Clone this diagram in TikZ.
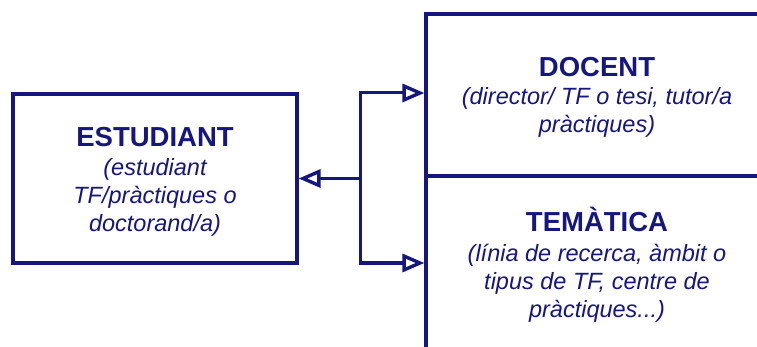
\documentclass[tikz,border=0pt]{standalone}
\usepackage{fontspec}
\setmainfont{Liberation Sans}
\usetikzlibrary{arrows.meta}
\definecolor{navy}{RGB}{22,22,128}
\tikzset{
  box/.style={draw=navy, line width=3.2pt, fill=white, inner sep=0pt},
  ttl/.style={font=\fontsize{27.5}{30}\selectfont\bfseries, text=navy},
  sub/.style={font=\fontsize{23.5}{28}\selectfont\itshape, text=navy, align=center},
  conn/.style={draw=navy, line width=3pt},
  tip/.style={-{Triangle[open, length=22pt, width=18pt, line width=3.4pt]}},
}
\begin{document}
\begin{tikzpicture}[x=1pt, y=-1pt]
\useasboundingbox (0,0) rectangle (757,347);
\clip (0,0) rectangle (757,347);
% boxes
\node[box, minimum width=284pt, minimum height=169pt] (est) at (155,178.5) {};
\node[box, minimum width=342pt, minimum height=162pt] (doc) at (597,95) {};
\node[box, minimum width=342pt, minimum height=183pt] (tem) at (597,267.5) {};
% texts (multi-line nodes: base = last line)
\node[ttl, anchor=base] (estT) at (155,147) {ESTUDIANT};
\node[sub, anchor=base] (estS) at (155,232) {(estudiant\\TF/pràctiques o\\doctorand/a)};
\node[ttl, anchor=base] (docT) at (597,77) {DOCENT};
\node[sub, anchor=base] (docS) at (597,133) {(director/ TF o tesi, tutor/a\\pràctiques)};
\node[ttl, anchor=base] (temT) at (597,232) {TEMÀTICA};
\node[sub, anchor=base] (temS) at (597,317) {(línia de recerca, àmbit o\\tipus de TF, centre de\\pràctiques...)};
% connectors
\coordinate (j) at (360,178.5);
\coordinate (jt) at (360,93);
\coordinate (jb) at (360,263);
\draw[conn, tip] (j) -- (est.east);
\draw[conn, tip] (jt) -- (jt -| doc.west);
\draw[conn, tip] (jb) -- (jb -| tem.west);
\draw[conn, line cap=rect] (jt) -- (jb);
\end{tikzpicture}
\end{document}
